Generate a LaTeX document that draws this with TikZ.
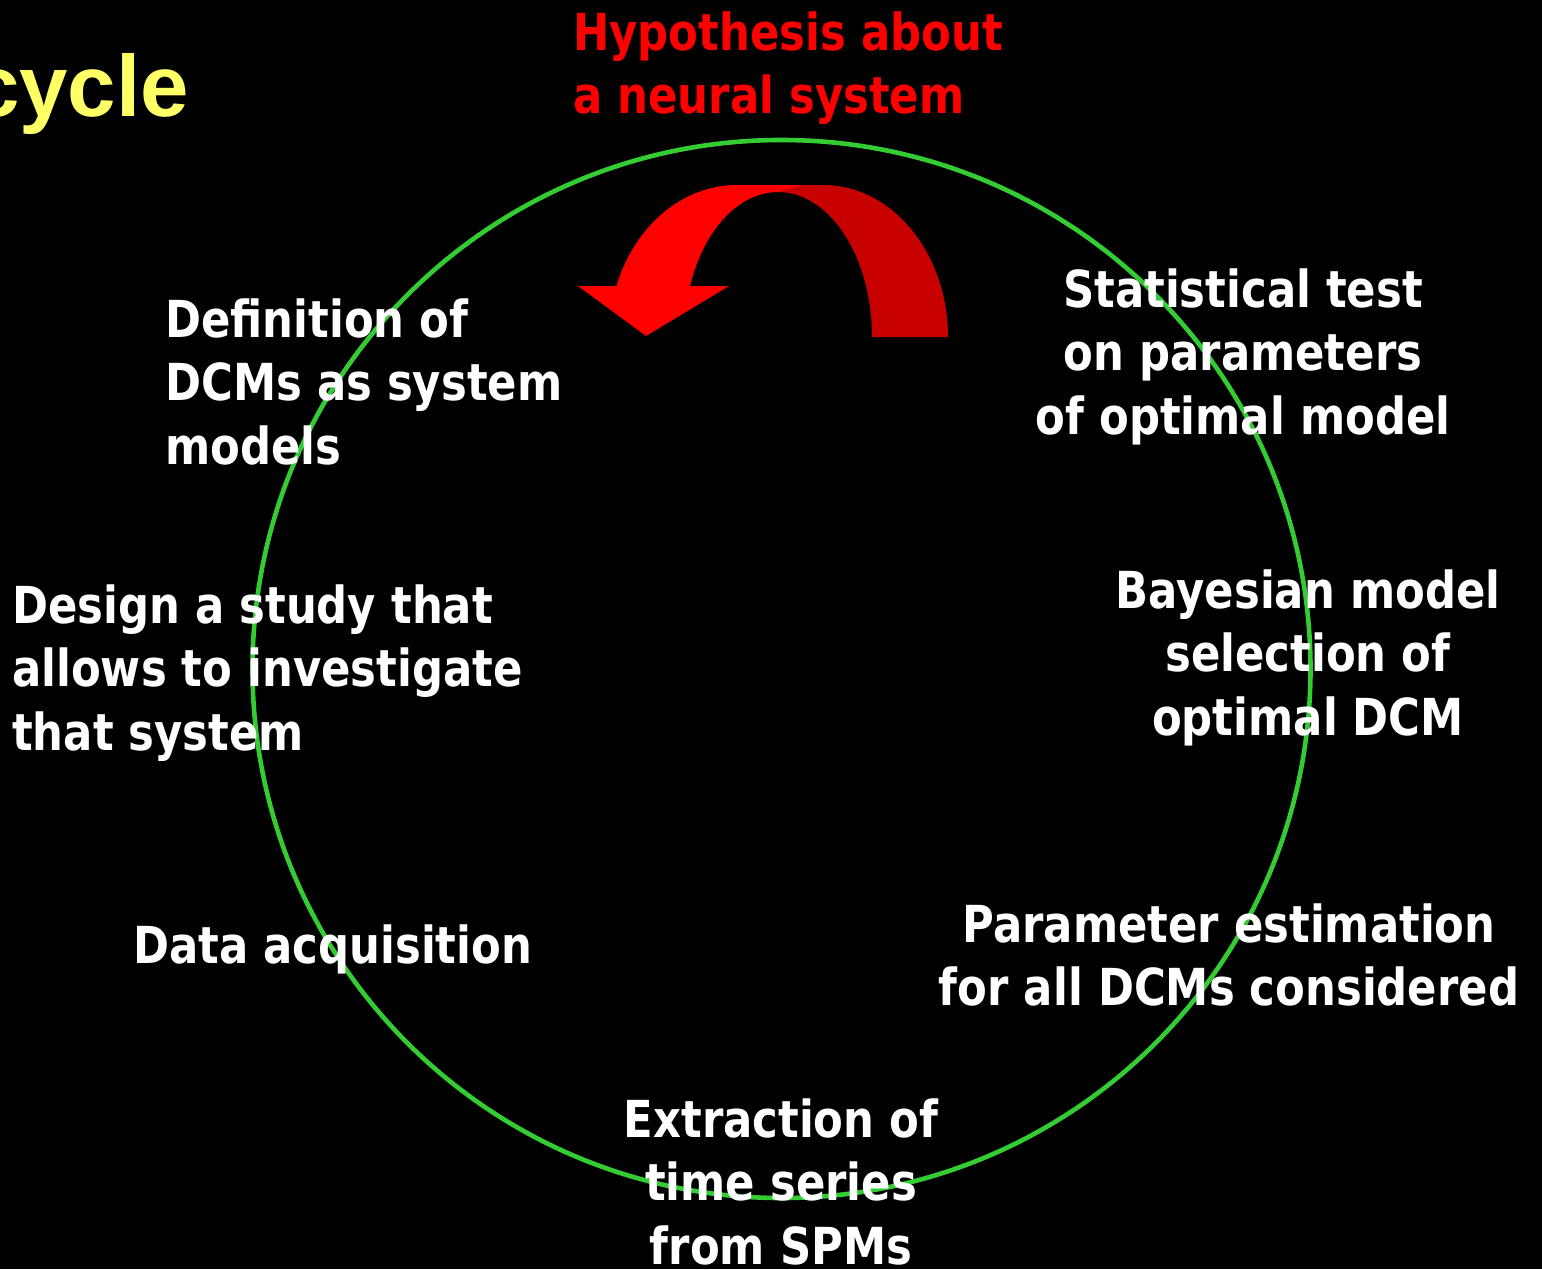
\documentclass[tikz,border=0pt]{standalone}
\usepackage{fontspec}
\newfontfamily\labelfont{DejaVu Sans Bold}[FakeStretch=0.85]
\newfontfamily\titlefont{Liberation Sans}
\definecolor{ringgreen}{HTML}{33CC33}
\definecolor{arrowfront}{HTML}{FF0000}
\definecolor{arrowback}{HTML}{C80000}
\definecolor{titleyellow}{HTML}{FFFF66}
% strut fixing the height of the first line above its baseline
\newcommand{\firstline}{\rule{0pt}{45pt}}
\begin{document}
\begin{tikzpicture}[x=1pt,y=-1pt,
  steplabel/.style={inner sep=0pt, text=white,
    font=\labelfont\fontsize{51}{63.5}\selectfont},
  leftlabel/.style={steplabel, anchor=north west, align=left},
  midlabel/.style={steplabel, anchor=north, align=center}]
\fill[black] (0,0) rectangle (1542,1269);
\useasboundingbox (0,0) rectangle (1542,1269);

% title fragment
\node[anchor=base east, inner sep=0pt, text=titleyellow,
  font=\titlefont\bfseries\fontsize{87}{100}\selectfont] (title) at (189,116) {cycle};

% the cycle ring
\draw[ringgreen, line width=4.6pt] (781.5,669) circle[radius=529];

% curved arrow: back face
\fill[arrowback] (948,337) -- (872,337)
  arc[start angle=0, end angle=-90, x radius=94, y radius=145]
  -- (805,185) -- (823,185)
  arc[start angle=-90, end angle=0, x radius=125, y radius=152] -- cycle;
% curved arrow: front face with head
\fill[arrowfront] (805,185) -- (737,185)
  arc[start angle=-90, end angle=-160.4, x radius=128, y radius=152]
  -- (578,286) -- (646,336) -- (729,286) -- (690,286)
  arc[start angle=-159.4, end angle=-90, x radius=94, y radius=145] -- cycle;

% labels
\node[leftlabel, text=arrowfront] (hyp) at (573,5) {\firstline Hypothesis about\\a neural system};
\node[leftlabel] (def) at (165,292) {\firstline Definition of\\DCMs as system\\models};
\node[leftlabel] (design) at (12,578) {\firstline Design a study that\\allows to investigate\\that system};
\node[leftlabel] (data) at (133,918) {\firstline Data acquisition};
\node[midlabel] (extract) at (781,1092) {\firstline Extraction of\\time series\\from SPMs};
\node[midlabel] (estim) at (1229,897) {\firstline Parameter estimation\\for all DCMs considered};
\node[midlabel] (bms) at (1308,563) {\firstline Bayesian model\\selection of\\optimal DCM};
\node[midlabel] (stat) at (1243,262) {\firstline Statistical test\\on parameters\\of optimal model};
\end{tikzpicture}
\end{document}
